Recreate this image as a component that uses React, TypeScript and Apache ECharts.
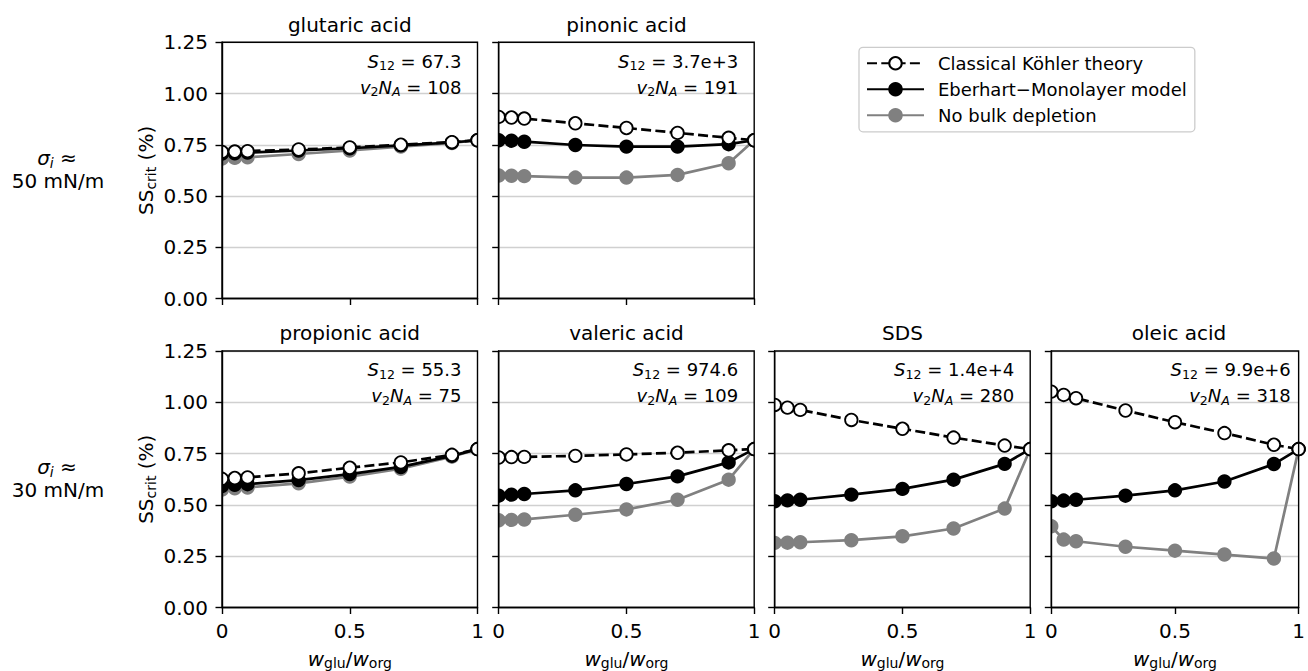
import React, { useEffect, useRef } from 'react';
import * as echarts from 'echarts';

// ---------------- data ----------------
const X_VALUES = [0, 0.05, 0.1, 0.3, 0.5, 0.7, 0.9, 1];
const X_TICK_LABELS = ['0', '0.5', '1'];
const Y_TICK_LABELS = ['0.00', '0.25', '0.50', '0.75', '1.00', '1.25'];

const SERIES_NAMES = ['Classical Köhler theory', 'Eberhart−Monolayer model', 'No bulk depletion'];

const PANEL_TITLES = ['glutaric acid', 'pinonic acid', 'propionic acid', 'valeric acid', 'SDS', 'oleic acid'];
const S12_LABELS = ['67.3', '3.7e+3', '55.3', '974.6', '1.4e+4', '9.9e+6'];
const V2NA_LABELS = ['108', '191', '75', '109', '280', '318'];
const ROW_SIGMA = ['50 mN/m', '30 mN/m'];

const glutaricClassical = [0.715, 0.717, 0.719, 0.727, 0.737, 0.750, 0.763, 0.772];
const glutaricEberhart = [0.707, 0.709, 0.712, 0.722, 0.733, 0.747, 0.761, 0.772];
const glutaricNoBulk = [0.683, 0.686, 0.689, 0.705, 0.722, 0.741, 0.759, 0.772];

const pinonicClassical = [0.886, 0.883, 0.878, 0.855, 0.832, 0.808, 0.784, 0.772];
const pinonicEberhart = [0.772, 0.770, 0.765, 0.749, 0.741, 0.741, 0.753, 0.772];
const pinonicNoBulk = [0.600, 0.599, 0.597, 0.590, 0.590, 0.603, 0.660, 0.772];

const propionicClassical = [0.627, 0.631, 0.634, 0.654, 0.681, 0.707, 0.744, 0.772];
const propionicEberhart = [0.592, 0.598, 0.601, 0.621, 0.650, 0.685, 0.739, 0.772];
const propionicNoBulk = [0.575, 0.581, 0.585, 0.605, 0.638, 0.676, 0.735, 0.772];

const valericClassical = [0.731, 0.733, 0.734, 0.739, 0.746, 0.754, 0.766, 0.772];
const valericEberhart = [0.545, 0.550, 0.553, 0.571, 0.602, 0.639, 0.707, 0.772];
const valericNoBulk = [0.425, 0.427, 0.429, 0.452, 0.478, 0.525, 0.623, 0.772];

const sdsClassical = [0.987, 0.974, 0.963, 0.914, 0.871, 0.828, 0.789, 0.772];
const sdsEberhart = [0.518, 0.522, 0.525, 0.550, 0.578, 0.623, 0.700, 0.772];
const sdsNoBulk = [0.315, 0.316, 0.318, 0.328, 0.347, 0.385, 0.482, 0.772];

const oleicClassical = [1.052, 1.036, 1.020, 0.960, 0.903, 0.850, 0.793, 0.772];
const oleicEberhart = [0.518, 0.521, 0.525, 0.545, 0.571, 0.614, 0.699, 0.772];
const oleicNoBulk = [0.396, 0.331, 0.323, 0.296, 0.277, 0.258, 0.239, 0.772];

const CLASSICAL = [glutaricClassical, pinonicClassical, propionicClassical, valericClassical, sdsClassical, oleicClassical];
const EBERHART = [glutaricEberhart, pinonicEberhart, propionicEberhart, valericEberhart, sdsEberhart, oleicEberhart];
const NOBULK = [glutaricNoBulk, pinonicNoBulk, propionicNoBulk, valericNoBulk, sdsNoBulk, oleicNoBulk];

// ---------------- layout ----------------
const FONT = "'DejaVu Sans', sans-serif";
const COL_LEFT = [222, 498.7, 774.7, 1051.3];
const PLOT_W = 255.5;
const ROW_TOP = [42.3, 351];
const PLOT_H = [256.2, 257];
const PANEL_POS: [number, number][] = [[0, 0], [0, 1], [1, 0], [1, 1], [1, 2], [1, 3]];

const GRAY = '#808080';

function buildOption() {
  const grids: any[] = [];
  const xAxes: any[] = [];
  const yAxes: any[] = [];
  const series: any[] = [];
  const graphics: any[] = [];

  const nameRich = {
    n: { fontSize: 20, lineHeight: 24, color: '#000', fontFamily: FONT },
    i: { fontSize: 20, lineHeight: 24, color: '#000', fontStyle: 'italic', fontFamily: FONT },
    sub: { fontSize: 14, lineHeight: 24, color: '#000', padding: [9, 0, 0, 0], fontFamily: FONT },
    subi: { fontSize: 14, lineHeight: 24, color: '#000', fontStyle: 'italic', padding: [9, 0, 0, 0], fontFamily: FONT },
  };
  const annRich = {
    n: { fontSize: 18, lineHeight: 24, color: '#000', fontFamily: FONT },
    i: { fontSize: 18, lineHeight: 24, color: '#000', fontStyle: 'italic', fontFamily: FONT },
    sub: { fontSize: 12.6, lineHeight: 24, color: '#000', padding: [9, 0, 0, 0], fontFamily: FONT },
    subi: { fontSize: 12.6, lineHeight: 24, color: '#000', fontStyle: 'italic', padding: [9, 0, 0, 0], fontFamily: FONT },
  };

  PANEL_POS.forEach(([row, col], i) => {
    const left = COL_LEFT[col];
    const top = ROW_TOP[row];
    const h = PLOT_H[row];
    grids.push({
      left, top, width: PLOT_W, height: h,
      show: true, borderColor: '#000', borderWidth: 1.4, backgroundColor: 'transparent', z: 10,
    });
    xAxes.push({
      type: 'value', gridIndex: i, min: 0, max: 1, interval: 0.5, z: 10,
      axisLine: { show: true, onZero: false, lineStyle: { color: '#000', width: 1.4 } },
      axisTick: { show: true, length: 6.5, lineStyle: { color: '#000', width: 1.4 } },
      axisLabel: {
        show: row === 1, fontSize: 20, color: '#000', margin: 13, fontFamily: FONT,
        formatter: (v: number) => X_TICK_LABELS[Math.round(v / 0.5)],
      },
      splitLine: { show: false },
      name: row === 1 ? '{i|w}{sub|glu}{n|/}{i|w}{sub|org}' : '',
      nameLocation: 'middle', nameGap: 39,
      nameTextStyle: { fontSize: 20, color: '#000', rich: nameRich },
    });
    // grid-line axis (behind data)
    yAxes.push({
      type: 'value', gridIndex: i, min: 0, max: 1.25, interval: 0.25, z: 0, position: 'left',
      axisLine: { show: false }, axisTick: { show: false }, axisLabel: { show: false },
      splitLine: { show: true, lineStyle: { color: '#d0d0d0', width: 1.3 } },
    });
    // tick axis (on top)
    yAxes.push({
      type: 'value', gridIndex: i, min: 0, max: 1.25, interval: 0.25, z: 10, position: 'left',
      axisLine: { show: true, onZero: false, lineStyle: { color: '#000', width: 1.4 } },
      axisTick: { show: true, length: 6.5, lineStyle: { color: '#000', width: 1.4 } },
      axisLabel: {
        show: col === 0, fontSize: 20, color: '#000', margin: 14, fontFamily: FONT,
        formatter: (v: number) => Y_TICK_LABELS[Math.round(v / 0.25)],
      },
      splitLine: { show: false },
      name: col === 0 ? '{n|SS}{sub|crit}{n| (%)}' : '',
      nameLocation: 'middle', nameGap: 64,
      nameTextStyle: { fontSize: 20, color: '#000', rich: nameRich },
    });

    const toData = (vals: number[]) => X_VALUES.map((x, k) => [x, vals[k]]);
    const common = {
      type: 'line', xAxisIndex: i, yAxisIndex: 2 * i, symbol: 'circle', symbolSize: 12.5,
      showSymbol: true, clip: true, silent: true,
    };
    series.push({
      ...common, name: SERIES_NAMES[2], z: 2, data: toData(NOBULK[i]),
      lineStyle: { color: GRAY, width: 2.7 },
      itemStyle: { color: GRAY, borderColor: GRAY, borderWidth: 1.8 },
    });
    series.push({
      ...common, name: SERIES_NAMES[1], z: 3, data: toData(EBERHART[i]),
      lineStyle: { color: '#000', width: 2.7 },
      itemStyle: { color: '#000', borderColor: '#000', borderWidth: 1.8 },
    });
    series.push({
      ...common, name: SERIES_NAMES[0], z: 4, data: toData(CLASSICAL[i]),
      lineStyle: { color: '#000', width: 2.7, type: [10, 4.3] },
      itemStyle: { color: '#fff', borderColor: '#000', borderWidth: 1.8 },
    });

    // masks to clip markers at the plot's left/right edges
    graphics.push({ type: 'rect', z: 5, silent: true, shape: { x: left - 10, y: top, width: 10, height: h }, style: { fill: '#fff' } });
    graphics.push({ type: 'rect', z: 5, silent: true, shape: { x: left + PLOT_W, y: top, width: 10, height: h }, style: { fill: '#fff' } });

    // title
    graphics.push({
      type: 'text', z: 20, x: left + PLOT_W / 2, y: top - 17.6,
      style: { text: PANEL_TITLES[i], fontSize: 20, fontFamily: FONT, fill: '#000', textAlign: 'center', textVerticalAlign: 'middle' },
    });
    // annotations
    graphics.push({
      type: 'text', z: 20, x: left + PLOT_W - 16, y: top + 18.8,
      style: { text: `{i|S}{sub|12}{n| = ${S12_LABELS[i]}}`, rich: annRich, textAlign: 'right', textVerticalAlign: 'middle', fill: '#000' },
    });
    graphics.push({
      type: 'text', z: 20, x: left + PLOT_W - 16, y: top + 44.8,
      style: { text: `{i|v}{sub|2}{i|N}{subi|A}{n| = ${V2NA_LABELS[i]}}`, rich: annRich, textAlign: 'right', textVerticalAlign: 'middle', fill: '#000' },
    });
  });

  // row labels
  [0, 1].forEach((row) => {
    const c = ROW_TOP[row] + PLOT_H[row] / 2;
    graphics.push({
      type: 'text', z: 20, x: 57, y: c - 12.4,
      style: { text: '{i|σ}{subi|i}{n| ≈}', rich: nameRich, textAlign: 'center', textVerticalAlign: 'middle', fill: '#000' },
    });
    graphics.push({
      type: 'text', z: 20, x: 58, y: c + 10.3,
      style: { text: ROW_SIGMA[row], fontSize: 20, fontFamily: FONT, fill: '#000', textAlign: 'center', textVerticalAlign: 'middle' },
    });
  });

  return {
    animation: false,
    backgroundColor: '#fff',
    textStyle: { fontFamily: FONT },
    grid: grids,
    xAxis: xAxes,
    yAxis: yAxes,
    series,
    graphic: graphics,
    legend: {
      orient: 'vertical', left: 859, top: 47.3,
      data: [SERIES_NAMES[0], SERIES_NAMES[1], SERIES_NAMES[2]],
      selectedMode: false,
      itemWidth: 57, itemHeight: 15.6, itemGap: 8,
      padding: [7, 8, 7.5, 7],
      borderColor: '#cccccc', borderWidth: 1.3, borderRadius: 4, backgroundColor: '#fff',
      textStyle: { fontSize: 18, color: '#000', fontFamily: FONT, lineHeight: 15.6, padding: [0, 0, 0, 9] },
    },
  };
}

export default function App() {
  const ref = useRef<HTMLDivElement>(null);
  useEffect(() => {
    document.body.style.margin = '0';
    if (!ref.current) return;
    const chart = echarts.init(ref.current, undefined, { renderer: 'svg' });
    chart.setOption(buildOption() as any);
    return () => chart.dispose();
  }, []);
  return <div ref={ref} style={{ width: 1308, height: 671 }} />;
}
